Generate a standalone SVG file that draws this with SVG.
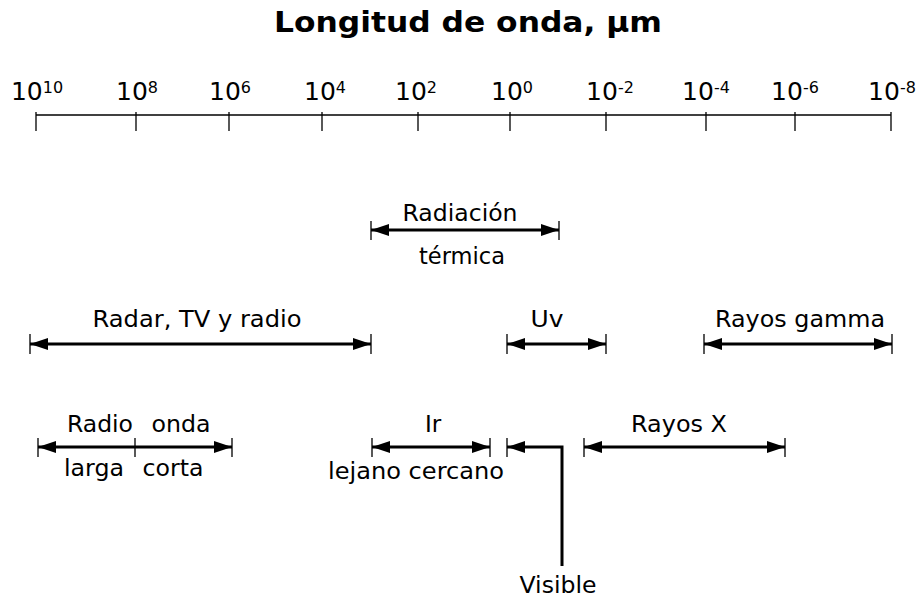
<svg xmlns="http://www.w3.org/2000/svg" width="919" height="600" viewBox="0 0 919 600">
<style>
text{font-family:"DejaVu Sans","Verdana",sans-serif;fill:#000}
.t{font-size:28px;font-weight:bold}
.ax{font-size:25px}
.lb{font-size:23px}
.axis{stroke:#000;stroke-width:1.3;fill:none}
.tick{stroke:#000;stroke-width:1.3;fill:none}
.arr{stroke:#000;stroke-width:3;fill:none;marker-start:url(#ah);marker-end:url(#ah)}
.bend{stroke:#000;stroke-width:3;fill:none;marker-start:url(#ah)}
</style>
<defs>
<marker id="ah" markerUnits="userSpaceOnUse" markerWidth="19" markerHeight="13" refX="18" refY="6" orient="auto-start-reverse" viewBox="0 0 19 13">
<path d="M0,0 L18,6 L0,12 z" fill="#000"/>
</marker>
</defs>
<g id="title"><text class="t" x="468" y="32" text-anchor="middle" textLength="388" lengthAdjust="spacingAndGlyphs">Longitud de onda, µm</text></g>
<g id="scale">
<line class="axis" x1="36" y1="115" x2="891" y2="115"/>
<path class="tick" d="M36,112V131M136,112V131M229,112V131M322,112V131M418,112V131M510,112V131M606,112V131M706,112V131M795,112V131M891,112V131"/>
<g class="ax">
<text class="ax" x="37" y="100" text-anchor="middle">10<tspan dy="-7" font-size="16">10</tspan></text>
<text class="ax" x="137" y="100" text-anchor="middle">10<tspan dy="-7" font-size="16">8</tspan></text>
<text class="ax" x="230" y="100" text-anchor="middle">10<tspan dy="-7" font-size="16">6</tspan></text>
<text class="ax" x="325" y="100" text-anchor="middle">10<tspan dy="-7" font-size="16">4</tspan></text>
<text class="ax" x="416" y="100" text-anchor="middle">10<tspan dy="-7" font-size="16">2</tspan></text>
<text class="ax" x="512" y="100" text-anchor="middle">10<tspan dy="-7" font-size="16">0</tspan></text>
<text class="ax" x="610" y="100" text-anchor="middle">10<tspan dy="-7" font-size="16">-2</tspan></text>
<text class="ax" x="706" y="100" text-anchor="middle">10<tspan dy="-7" font-size="16">-4</tspan></text>
<text class="ax" x="795" y="100" text-anchor="middle">10<tspan dy="-7" font-size="16">-6</tspan></text>
<text class="ax" x="892" y="100" text-anchor="middle">10<tspan dy="-7" font-size="16">-8</tspan></text>
</g>
</g>
<g id="connectors">
<path class="tick" d="M371,221V240M559,221V240"/>
<line class="arr" x1="371" y1="230" x2="559" y2="230"/>
<path class="tick" d="M30,334V354M371,334V354M507,334V354M606,334V354M704,334V354M892,334V354"/>
<line class="arr" x1="30" y1="344" x2="371" y2="344"/>
<line class="arr" x1="507" y1="344" x2="606" y2="344"/>
<line class="arr" x1="704" y1="344" x2="892" y2="344"/>
<path class="tick" d="M38,438V457M135,438V457M232,438V457M372,438V457M490,438V457M507,438V457M584,438V457M785,438V457"/>
<line class="arr" x1="38" y1="447" x2="232" y2="447"/>
<line class="arr" x1="372" y1="447" x2="490" y2="447"/>
<line class="arr" x1="584" y1="447" x2="785" y2="447"/>
<path class="bend" d="M507,447H562V566"/>
</g>
<g id="termica"><text class="lb" x="460" y="221" text-anchor="middle" textLength="115" lengthAdjust="spacingAndGlyphs">Radiación</text><text class="lb" x="462" y="264" text-anchor="middle" textLength="86" lengthAdjust="spacingAndGlyphs">térmica</text></g>
<g id="radar"><text class="lb" x="197" y="327" text-anchor="middle" textLength="209" lengthAdjust="spacingAndGlyphs">Radar, TV y radio</text></g>
<g id="uv"><text class="lb" x="547" y="327" text-anchor="middle" textLength="33" lengthAdjust="spacingAndGlyphs">Uv</text></g>
<g id="gamma"><text class="lb" x="800" y="327" text-anchor="middle" textLength="170" lengthAdjust="spacingAndGlyphs">Rayos gamma</text></g>
<g id="radio"><text class="lb" x="100" y="432" text-anchor="middle" textLength="66" lengthAdjust="spacingAndGlyphs">Radio</text><text class="lb" x="181" y="432" text-anchor="middle" textLength="59" lengthAdjust="spacingAndGlyphs">onda</text><text class="lb" x="94" y="476" text-anchor="middle" textLength="60" lengthAdjust="spacingAndGlyphs">larga</text><text class="lb" x="173" y="476" text-anchor="middle" textLength="61" lengthAdjust="spacingAndGlyphs">corta</text></g>
<g id="ir"><text class="lb" x="433" y="432" text-anchor="middle">Ir</text><text class="lb" x="416" y="479" text-anchor="middle" textLength="176" lengthAdjust="spacingAndGlyphs">lejano cercano</text></g>
<g id="visible"><text class="lb" x="558" y="593" text-anchor="middle" textLength="77" lengthAdjust="spacingAndGlyphs">Visible</text></g>
<g id="rayosx"><text class="lb" x="679" y="432" text-anchor="middle" textLength="96" lengthAdjust="spacingAndGlyphs">Rayos X</text></g>
</svg>
